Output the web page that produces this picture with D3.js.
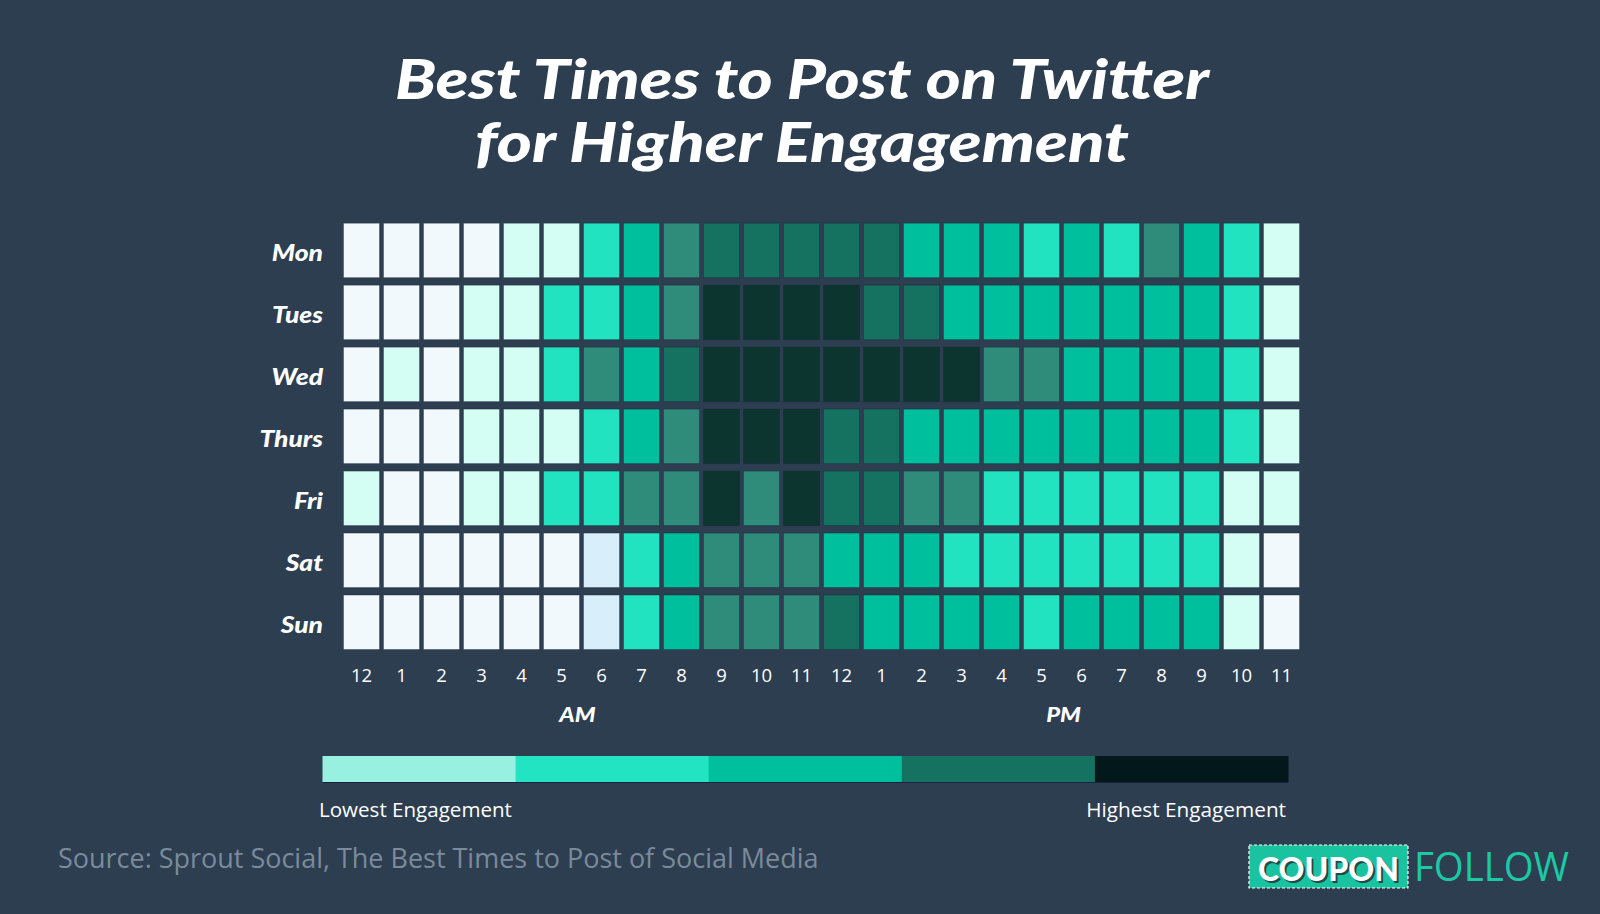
<!DOCTYPE html>
<html>
<head>
<meta charset="utf-8">
<script src="https://cdn.jsdelivr.net/npm/d3@7"></script>
<style>
  html, body { margin: 0; padding: 0; background: #2d3e50; }
  svg { display: block; }
</style>
</head>
<body>
<svg id="chart" width="1600" height="914"></svg>
<script>
// ---------------- DATA ----------------
const titleLines = ["Best Times to Post on Twitter", "for Higher Engagement"];
const days = ["Mon", "Tues", "Wed", "Thurs", "Fri", "Sat", "Sun"];
const hourLabels = ["12","1","2","3","4","5","6","7","8","9","10","11",
                    "12","1","2","3","4","5","6","7","8","9","10","11"];
const periodLabels = ["AM", "PM"];
// engagement level per hour (0 = lowest … 7 = highest)
const mon   = [0,0,0,0,2,2,3,4,5,6,6,6, 6,6,4,4,4,3,4,3,5,4,3,2];
const tues  = [0,0,0,2,2,3,3,4,5,7,7,7, 7,6,6,4,4,4,4,4,4,4,3,2];
const wed   = [0,2,0,2,2,3,5,4,6,7,7,7, 7,7,7,7,5,5,4,4,4,4,3,2];
const thurs = [0,0,0,2,2,2,3,4,5,7,7,7, 6,6,4,4,4,4,4,4,4,4,3,2];
const fri   = [2,0,0,2,2,3,3,5,5,7,5,7, 6,6,5,5,3,3,3,3,3,3,2,2];
const sat   = [0,0,0,0,0,0,1,3,4,5,5,5, 4,4,4,3,3,3,3,3,3,3,2,0];
const sun   = [0,0,0,0,0,0,1,3,4,5,5,5, 6,4,4,4,4,3,4,4,4,4,2,0];
const engagement = [mon, tues, wed, thurs, fri, sat, sun];
const levelColors = ["#f1f9fc","#d8eefa","#d4fdf4","#22e3c0","#00bf9c","#2f8b7a","#167260","#0d352f"];
const legendColors = ["#98f0e0","#22e3c2","#00bf9c","#167260","#03181a"];
const legendLabels = ["Lowest Engagement", "Highest Engagement"];
const sourceText = "Source: Sprout Social, The Best Times to Post of Social Media";
const logoParts = ["COUPON", "FOLLOW"];

// ---------------- CHART ----------------
const svg = d3.select("#chart");
svg.append("rect").attr("width", 1600).attr("height", 914).attr("fill", "#2d3e50");

const heavy = "Lato, 'Open Sans', sans-serif";
const regular = "'Open Sans', Lato, sans-serif";

function fit(sel, target) {
  const w = sel.node().getComputedTextLength();
  const fs = parseFloat(sel.attr("font-size"));
  if (w > 0) sel.attr("font-size", fs * target / w);
  return sel;
}
function stretch(sel, target) {
  sel.attr("textLength", target).attr("lengthAdjust", "spacingAndGlyphs");
  return sel;
}

// Title
const titleBase = [99, 162];
const titleW = [814, 654];
titleLines.forEach((t, i) => {
  const s = svg.append("text")
    .attr("x", 802).attr("y", titleBase[i])
    .attr("text-anchor", "middle")
    .attr("font-family", heavy).attr("font-weight", 900).attr("font-style", "italic")
    .attr("font-size", 56).attr("fill", "#ffffff").text(t);
  stretch(s, titleW[i]);
});

const x = d3.scaleBand().domain(d3.range(24)).range([343, 1300]).paddingInner(0.075);
const y = d3.scaleBand().domain(days).range([222.7, 650]).paddingInner(0.105);
const color = d3.scaleOrdinal().domain(d3.range(levelColors.length)).range(levelColors);

const cells = [];
days.forEach((d, r) => engagement[r].forEach((v, c) => cells.push({ day: d, hour: c, v })));

svg.append("g").selectAll("rect").data(cells).join("rect")
  .attr("x", d => x(d.hour) + 0.5)
  .attr("y", d => y(d.day) + 0.5)
  .attr("width", x.bandwidth() - 1)
  .attr("height", y.bandwidth() - 1)
  .attr("fill", d => color(d.v))
  .attr("stroke", "rgba(20,35,60,0.35)")
  .attr("stroke-width", 1);

// Day axis
const yAxis = svg.append("g").attr("transform", "translate(323,3)")
  .call(d3.axisLeft(y).tickSize(0).tickPadding(0));
yAxis.select(".domain").remove();
yAxis.selectAll("text")
  .attr("font-family", heavy).attr("font-weight", 900).attr("font-style", "italic")
  .attr("font-size", 22).attr("fill", "#ffffff").attr("dy", "0.36em")
  .each(function () {
    const w = this.getComputedTextLength();
    d3.select(this).attr("textLength", w * 1.2).attr("lengthAdjust", "spacingAndGlyphs");
  });

// Hour axis
const xAxis = svg.append("g").attr("transform", "translate(0,675)")
  .call(d3.axisBottom(x).tickSize(0).tickPadding(0).tickFormat(i => hourLabels[i]));
xAxis.select(".domain").remove();
xAxis.selectAll("text")
  .attr("font-family", regular).attr("font-size", 18.5).attr("fill", "#ffffff")
  .attr("y", 0).attr("dy", "0.36em");

// AM / PM
const periodShift = [-4, 2];
periodLabels.forEach((p, i) => {
  const a = x(i * 12), b = x(i * 12 + 11) + x.bandwidth();
  const t = svg.append("text")
    .attr("x", (a + b) / 2 + periodShift[i]).attr("y", 722)
    .attr("text-anchor", "middle")
    .attr("font-family", heavy).attr("font-weight", 900).attr("font-style", "italic")
    .attr("font-size", 21).attr("fill", "#ffffff").text(p);
  stretch(t, t.node().getComputedTextLength() * 1.12);
});

// Legend
const lx = d3.scaleBand().domain(d3.range(legendColors.length)).range([322.5, 1288]);
svg.append("g").selectAll("rect").data(legendColors).join("rect")
  .attr("x", (d, i) => lx(i)).attr("y", 756)
  .attr("width", lx.bandwidth() + 0.5).attr("height", 26.5)
  .attr("fill", d => d);
svg.append("line").attr("x1", 322.5).attr("x2", 1288).attr("y1", 782.5).attr("y2", 782.5)
  .attr("stroke", "#1a1f45").attr("stroke-width", 1.2);

const ll = svg.append("text").attr("x", 319).attr("y", 817)
  .attr("font-family", regular).attr("font-size", 19).attr("fill", "#ffffff").text(legendLabels[0]);
fit(ll, 193);
const lr = svg.append("text").attr("x", 1286).attr("y", 817).attr("text-anchor", "end")
  .attr("font-family", regular).attr("font-size", 19).attr("fill", "#ffffff").text(legendLabels[1]);
fit(lr, 200);

// Source
const src = svg.append("text").attr("x", 58).attr("y", 868)
  .attr("font-family", regular).attr("font-size", 24).attr("fill", "#7b8a9c").text(sourceText);
fit(src, 761);

// Logo
svg.append("rect").attr("x", 1249).attr("y", 845).attr("width", 159).attr("height", 43)
  .attr("fill", "#19c3a0").attr("stroke", "#ffffff").attr("stroke-width", 1.2)
  .attr("stroke-dasharray", "3,2");
const cpShadow = svg.append("text").attr("x", 1330.5).attr("y", 882.5).attr("text-anchor", "middle")
  .attr("font-family", heavy).attr("font-weight", 900).attr("font-size", 33)
  .attr("fill", "#1e4a48").text(logoParts[0]);
stretch(cpShadow, 141);
const cp = svg.append("text").attr("x", 1328.5).attr("y", 880.5).attr("text-anchor", "middle")
  .attr("font-family", heavy).attr("font-weight", 900).attr("font-size", 33)
  .attr("fill", "#ffffff").text(logoParts[0]);
stretch(cp, 141);
const fl = svg.append("text").attr("x", 1414).attr("y", 881)
  .attr("font-family", regular).attr("font-weight", 400).attr("font-size", 40)
  .attr("fill", "#1dc9a4").text(logoParts[1]);
stretch(fl, 155);
</script>
</body>
</html>
